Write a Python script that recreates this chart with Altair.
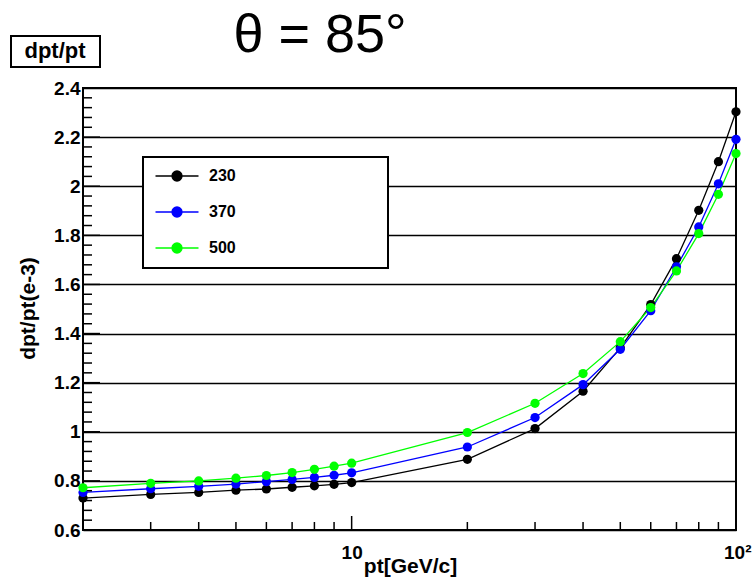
import altair as alt
import pandas as pd

# Momentum resolution dpt/pt (units of 1e-3) versus pt, at theta = 85 deg
pt = [2, 3, 4, 5, 6, 7, 8, 9, 10, 20, 30, 40, 50, 60, 70, 80, 90, 100]
res_230 = [0.730, 0.745, 0.753, 0.762, 0.767, 0.774, 0.780, 0.786, 0.793,
           0.888, 1.013, 1.165, 1.342, 1.518, 1.705, 1.902, 2.100, 2.303]
res_370 = [0.753, 0.768, 0.778, 0.787, 0.797, 0.806, 0.814, 0.823, 0.833,
           0.938, 1.058, 1.192, 1.336, 1.493, 1.672, 1.834, 2.010, 2.191]
res_500 = [0.772, 0.790, 0.800, 0.811, 0.822, 0.834, 0.847, 0.860, 0.872,
           0.997, 1.116, 1.237, 1.367, 1.506, 1.655, 1.807, 1.967, 2.133]

series_names = ["230", "370", "500"]
series_colors = ["#000000", "#0000ff", "#00ff00"]

y_major = [0.6, 0.8, 1.0, 1.2, 1.4, 1.6, 1.8, 2.0, 2.2, 2.4]
y_minor = [round(0.6 + 0.04 * i, 2) for i in range(46) if i % 5 != 0]
x_major = [10, 100]
x_minor = [3, 4, 5, 6, 7, 8, 9, 20, 30, 40, 50, 60, 70, 80, 90]

title_text = "θ = 85°"
box_text = "dpt/pt"

W, H = 653, 442
FONT = "Liberation Sans"

rows = []
for name, vals in zip(series_names, [res_230, res_370, res_500]):
    for p, v in zip(pt, vals):
        rows.append({"pt": p, "res": v, "series": name})
df = pd.DataFrame(rows)

xscale = alt.Scale(type="log", domain=[2, 100], nice=False)
yscale = alt.Scale(domain=[0.6, 2.4], nice=False, zero=False)
cscale = alt.Scale(domain=series_names, range=series_colors)

x_axis = alt.Axis(
    values=x_major,
    labelExpr="datum.value == 10 ? '10' : (datum.value == 100 ? '10²' : '')",
    grid=False, ticks=False, domain=False,
    labelFlush=True, labelFlushOffset=15, labelOverlap=False,
    labelPadding=13,
    title="pt[GeV/c]", titleFontSize=21,
    titleX=327, titleY=42, titleBaseline="alphabetic",
    titleAnchor="start", titleAlign="center",
)
y_axis = alt.Axis(
    values=y_major, format="~g",
    grid=True, gridColor="#000000", gridWidth=1.5, gridOpacity=1,
    ticks=False, domain=False, labelFlush=False, labelOverlap=False,
    labelPadding=3,
    title="dpt/pt(e-3)", titleFontSize=21,
    titleX=-55, titleY=220, titleAngle=-90,
    titleAlign="center", titleBaseline="middle",
)

# Legend entries: a short line through a filled dot, coloured per series
legend = alt.Legend(
    title=None, orient="none", legendX=86, legendY=80, padding=0, zindex=1,
    labelFont=FONT, labelFontSize=16, labelFontWeight="bold", labelColor="black",
    labelOffset=24, rowPadding=20,
    symbolType="M-4.3,0L4.3,0M-1,0A1,1,0,1,1,1,0A1,1,0,1,1,-1,0Z",
    symbolSize=100, symbolStrokeWidth=1.3, symbolOpacity=1,
)

base = alt.Chart(df)

lines = base.mark_line(strokeWidth=1.3).encode(
    x=alt.X("pt:Q", scale=xscale, axis=x_axis),
    y=alt.Y("res:Q", scale=yscale, axis=y_axis),
    color=alt.Color("series:N", scale=cscale, legend=legend),
    order=alt.Order("pt:Q"),
)

points = base.mark_point(filled=True, size=85, opacity=1).encode(
    x=alt.X("pt:Q"),
    y=alt.Y("res:Q"),
    color=alt.Color("series:N", scale=cscale, legend=legend),
)

# Legend frame
legend_box = alt.Chart(pd.DataFrame({"k": [0]})).mark_rect(
    fill="white", stroke="black", strokeWidth=2
).encode(x=alt.value(60), x2=alt.value(305), y=alt.value(69), y2=alt.value(180))

# Inward tick marks on the left and bottom axes
ymaj_df = pd.DataFrame({"res": y_major})
ymin_df = pd.DataFrame({"res": y_minor})
xmaj_df = pd.DataFrame({"pt": x_major})
xmin_df = pd.DataFrame({"pt": x_minor})

y_major_ticks = alt.Chart(ymaj_df).mark_rule(color="black", strokeWidth=1.5).encode(
    y=alt.Y("res:Q"), x=alt.value(0), x2=alt.value(17))
y_minor_ticks = alt.Chart(ymin_df).mark_rule(color="black", strokeWidth=1.5).encode(
    y=alt.Y("res:Q"), x=alt.value(0), x2=alt.value(9))
x_major_ticks = alt.Chart(xmaj_df).mark_rule(color="black", strokeWidth=1.5).encode(
    x=alt.X("pt:Q"), y=alt.value(H), y2=alt.value(H - 14))
x_minor_ticks = alt.Chart(xmin_df).mark_rule(color="black", strokeWidth=1.5).encode(
    x=alt.X("pt:Q"), y=alt.value(H), y2=alt.value(H - 8))

title = alt.Chart(pd.DataFrame({"t": [title_text]})).mark_text(
    font=FONT, fontSize=54, color="black", align="center", baseline="alphabetic"
).encode(x=alt.value(237), y=alt.value(-36), text="t:N")

label_box = alt.Chart(pd.DataFrame({"k": [0]})).mark_rect(
    fill="white", stroke="black", strokeWidth=2
).encode(x=alt.value(-72), x2=alt.value(17), y=alt.value(-52), y2=alt.value(-21))

label_text = alt.Chart(pd.DataFrame({"t": [box_text]})).mark_text(
    font=FONT, fontSize=22, fontWeight="bold", color="black",
    align="center", baseline="alphabetic"
).encode(x=alt.value(-28), y=alt.value(-30), text="t:N")

chart = alt.layer(
    legend_box, lines, y_major_ticks, y_minor_ticks, x_major_ticks, x_minor_ticks,
    points, title, label_box, label_text,
).properties(
    width=W, height=H,
    autosize=alt.AutoSizeParams(type="none"),
    padding={"left": 83, "top": 88, "right": 19, "bottom": 54},
    background="white",
).configure_view(
    stroke="black", strokeWidth=2
).configure_axis(
    labelFont=FONT, labelFontSize=19, labelFontWeight="bold", labelColor="black",
    titleFont=FONT, titleFontWeight="bold", titleColor="black",
)

chart.save("out.html", embed_options={"renderer": "svg", "actions": False})
